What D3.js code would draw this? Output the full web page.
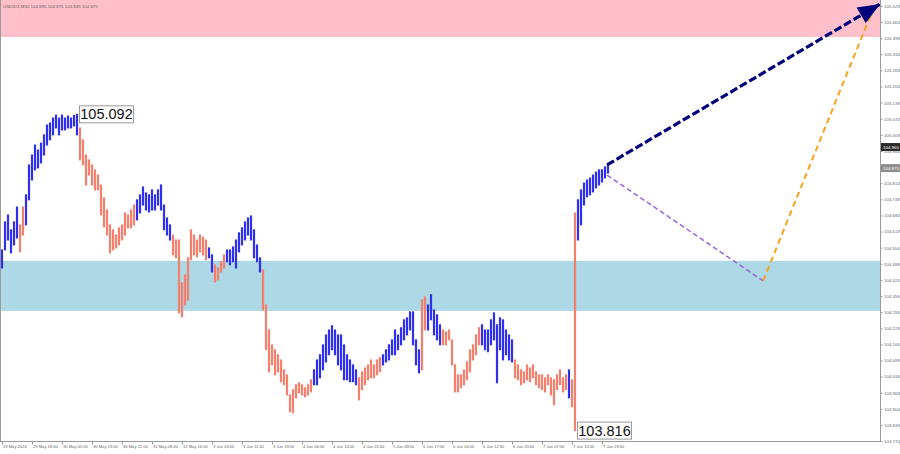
<!DOCTYPE html>
<html><head><meta charset="utf-8">
<script src="https://cdn.jsdelivr.net/npm/d3@7"></script>
<style>body{margin:0;background:#fff}svg{display:block}</style>
</head><body><svg id="c" width="900" height="454"></svg>
<script>
const symbolTitle = "USDIDX,M30  104.895 104.875 104.845 104.875";
const highs = [
104.545,104.658,104.686,104.626,104.658,104.718,104.646,104.718,104.767,104.888,
104.928,104.968,104.948,104.976,105.009,105.049,105.057,105.077,105.089,105.077,
105.089,105.077,105.085,105.077,105.088,105.092,105.037,104.989,104.928,104.908,
104.888,104.868,104.847,104.807,104.755,104.706,104.646,104.626,104.605,104.634,
104.646,104.694,104.686,104.706,104.726,104.747,104.767,104.799,104.775,104.767,
104.787,104.767,104.787,104.807,104.726,104.674,104.646,104.605,104.585,104.585,
104.412,104.444,104.513,104.626,104.605,104.585,104.605,104.597,104.585,104.553,
104.525,104.485,104.472,104.497,104.525,104.545,104.545,104.557,104.585,104.614,
104.634,104.658,104.674,104.682,104.626,104.565,104.513,104.464,104.323,104.222,
104.162,104.142,104.122,104.101,104.061,104.041,103.960,103.981,104.001,104.009,
104.001,103.989,104.001,104.021,104.061,104.101,104.122,104.162,104.202,104.222,
104.239,104.222,104.202,104.202,104.162,104.122,104.101,104.081,104.061,104.029,
104.053,104.069,104.081,104.101,104.081,104.101,104.110,104.122,104.142,104.162,
104.182,104.222,104.202,104.231,104.263,104.271,104.295,104.295,104.182,104.142,
104.343,104.356,104.323,104.364,104.303,104.283,104.243,104.222,104.214,104.222,
104.182,104.081,104.041,104.041,104.061,104.093,104.142,104.162,104.202,104.231,
104.243,104.222,104.222,104.263,104.291,104.243,104.271,104.263,104.222,104.202,
104.182,104.101,104.081,104.061,104.053,104.081,104.069,104.081,104.053,104.041,
104.041,104.029,104.041,104.029,104.021,104.041,104.061,104.029,104.041,104.061,
104.021,104.694,104.747,104.787,104.815,104.827,104.835,104.847,104.859,104.868,
104.868,104.880,104.888];
const lows = [
104.472,104.545,104.585,104.533,104.565,104.593,104.537,104.605,104.646,104.747,
104.827,104.868,104.876,104.896,104.928,104.968,104.989,105.009,105.037,105.009,
105.029,105.029,105.037,105.037,105.045,105.009,104.908,104.888,104.807,104.847,
104.807,104.787,104.787,104.686,104.638,104.605,104.533,104.545,104.553,104.565,
104.585,104.605,104.634,104.634,104.646,104.666,104.694,104.726,104.706,104.698,
104.706,104.706,104.726,104.706,104.626,104.605,104.585,104.525,104.513,104.291,
104.275,104.323,104.343,104.505,104.525,104.517,104.537,104.525,104.505,104.513,
104.456,104.416,104.424,104.456,104.472,104.497,104.485,104.497,104.472,104.537,
104.565,104.585,104.605,104.585,104.513,104.497,104.456,104.303,104.142,104.053,
104.081,104.041,104.053,104.013,104.001,103.960,103.892,103.888,103.948,103.968,
103.960,103.952,103.960,103.972,104.001,104.001,104.029,104.061,104.093,104.122,
104.142,104.122,104.081,104.061,104.021,104.021,104.013,104.013,104.001,103.940,
103.981,104.001,104.021,104.029,104.029,104.041,104.053,104.081,104.093,104.101,
104.122,104.122,104.142,104.162,104.182,104.202,104.222,104.162,104.081,104.049,
104.061,104.222,104.222,104.263,104.202,104.182,104.162,104.162,104.162,104.182,
104.081,103.972,103.972,103.989,104.001,104.021,104.053,104.101,104.122,104.162,
104.162,104.142,104.134,104.162,104.182,104.009,104.142,104.101,104.122,104.101,
104.093,104.029,104.021,104.001,104.009,104.021,104.013,104.029,104.001,103.989,
103.981,103.972,104.001,103.960,103.920,103.981,104.001,103.972,103.981,103.948,
103.912,103.816,104.585,104.646,104.726,104.759,104.767,104.779,104.795,104.807,
104.819,104.835,104.855];
// bar index ranges that belong to falling waves (drawn salmon); the rest are rising waves (blue)
const fallingWaves = [[6,7],[26,44],[57,68],[71,74],[87,103],[119,126],[140,141],[147,159],[171,188],[190,191]];
const timeLabels = ["29 May 2024","29 May 18:00","30 May 05:00","30 May 13:00","30 May 21:00","31 May 08:00","31 May 16:00","3 Jun 03:00","3 Jun 11:00","3 Jun 19:00","4 Jun 06:00","4 Jun 14:00","4 Jun 22:00","5 Jun 09:00","5 Jun 17:00","6 Jun 04:00","6 Jun 12:00","6 Jun 20:00","7 Jun 07:00","7 Jun 15:00","7 Jun 23:00"];
const timeLabelBars = [0,10,20,30,40,50,60,70,80,90,100,110,120,130,140,150,160,170,180,190,200];
const priceTicks = [105.529,105.464,105.399,105.334,105.269,105.204,105.139,105.074,105.009,104.944,104.879,104.814,104.749,104.684,104.619,104.554,104.489,104.424,104.359,104.294,104.229,104.164,104.099,104.034,103.969,103.904,103.839,103.774];
const resistanceZone = [105.404, 105.700];
const supportZone = [104.299, 104.501];
const mainForecast = [[201.7,104.888],[292.7,105.537]];
const altForecastDown = [[201.7,104.847],[253.7,104.420]];
const altForecastUp = [[253.7,104.420],[289.7,105.497]];
const extremes = [{bar:25, price:105.092, text:"105.092"},{bar:191, price:103.816, text:"103.816"}];
const priceMarks = [{price:104.960, text:"104.960", fill:"#2b2b2b"},{price:104.875, text:"104.875", fill:"#8c8c8c"}];

const svg = d3.select("#c");
const L = 1, R = 880, B = 441;
const x = d3.scaleLinear().domain([0,292]).range([2,878]);
const y = d3.scaleLinear().domain([103.774,105.529]).range([441,6]);

svg.append("defs").append("clipPath").attr("id","plot")
  .append("rect").attr("x",L).attr("y",0).attr("width",R-L).attr("height",B);

const plot = svg.append("g").attr("clip-path","url(#plot)");
plot.append("rect").attr("x",L).attr("width",R-L)
  .attr("y",y(resistanceZone[1])).attr("height",y(resistanceZone[0])-y(resistanceZone[1]))
  .attr("fill","#ffc0cb");
plot.append("rect").attr("x",L).attr("width",R-L)
  .attr("y",y(supportZone[1])).attr("height",y(supportZone[0])-y(supportZone[1]))
  .attr("fill","#add8e6");

const isFalling = i => fallingWaves.some(([a,b]) => i>=a && i<=b);
plot.append("g").selectAll("line").data(highs).join("line")
  .attr("x1",(d,i)=>x(i)).attr("x2",(d,i)=>x(i))
  .attr("y1",d=>y(d)-0.5).attr("y2",(d,i)=>y(lows[i])+0.5)
  .attr("stroke",(d,i)=>isFalling(i)?"#f47f6c":"#2f2ff0")
  .attr("stroke-width",2.2);

// forecast lines
const line = d3.line().x(d=>x(d[0])).y(d=>y(d[1]));
plot.append("path").attr("d",line(altForecastDown)).attr("fill","none")
  .attr("stroke","#9a63e0").attr("stroke-width",1.5).attr("stroke-dasharray","5,3");
plot.append("path").attr("d",line(altForecastUp)).attr("fill","none")
  .attr("stroke","#f7a21b").attr("stroke-width",2).attr("stroke-dasharray","6,4");
plot.append("path").attr("d",line(mainForecast)).attr("fill","none")
  .attr("stroke","#00007a").attr("stroke-width",3.2).attr("stroke-dasharray","8,3");
{
  const [p0,p1] = mainForecast;
  const x0=x(p0[0]), y0=y(p0[1]), x1=x(p1[0]), y1=y(p1[1]);
  const a = Math.atan2(y1-y0, x1-x0), len=22, hw=9;
  const bx = x1-len*Math.cos(a), by = y1-len*Math.sin(a);
  const pts = [[x1,y1],[bx+hw*Math.sin(a),by-hw*Math.cos(a)],[bx-hw*Math.sin(a),by+hw*Math.cos(a)]];
  plot.append("polygon").attr("points",pts.map(p=>p.join(",")).join(" ")).attr("fill","#00007a");
}

// extreme labels
extremes.forEach(e=>{
  const g = svg.append("g").attr("transform",`translate(${x(e.bar)+2.5},${y(e.price)})`);
  g.append("rect").attr("x",0).attr("y",-8.5).attr("width",54).attr("height",17)
    .attr("fill","#fff").attr("stroke","#9a9a9a").attr("stroke-width",1);
  g.append("text").attr("x",27).attr("y",5).attr("text-anchor","middle")
    .attr("font-family","Liberation Sans, Arial, sans-serif").attr("font-size",14.5).attr("fill","#111")
    .text(e.text);
});

// frame
svg.append("line").attr("x1",0.5).attr("x2",0.5).attr("y1",0).attr("y2",B).attr("stroke","#9a9a9a");
svg.append("line").attr("x1",0).attr("x2",R).attr("y1",B+0.5).attr("y2",B+0.5).attr("stroke","#9a9a9a");
svg.append("line").attr("x1",R+0.5).attr("x2",R+0.5).attr("y1",0).attr("y2",B+1).attr("stroke","#9a9a9a");

// axes
const ya = svg.append("g").attr("transform",`translate(${R+0.5},0)`)
  .call(d3.axisRight(y).tickValues(priceTicks).tickSize(2).tickPadding(1.5).tickFormat(d3.format(".3f")));
ya.select(".domain").remove();
ya.selectAll("line").attr("stroke","#9a9a9a");
ya.selectAll("text").attr("font-family","Liberation Sans, Arial, sans-serif").attr("font-size",4.4).attr("fill","#666");

const xa = svg.append("g").attr("transform",`translate(0,${B+0.5})`)
  .call(d3.axisBottom(x).tickValues(timeLabelBars).tickSize(3).tickPadding(0.8).tickFormat((d,i)=>timeLabels[i]));
xa.select(".domain").remove();
xa.selectAll("line").attr("stroke","#9a9a9a");
xa.selectAll("text").attr("text-anchor","start").attr("dx",0.5)
  .attr("font-family","Liberation Sans, Arial, sans-serif").attr("font-size",4.1).attr("fill","#666");

// price marks on axis
priceMarks.forEach(m=>{
  const g = svg.append("g").attr("transform",`translate(${R+1},${y(m.price)})`);
  g.append("rect").attr("x",0).attr("y",-4).attr("width",19).attr("height",8).attr("fill",m.fill);
  g.append("text").attr("x",2).attr("y",1.6).attr("font-family","Liberation Sans, Arial, sans-serif")
    .attr("font-size",4.4).attr("fill","#fff").text(m.text);
});

svg.append("text").attr("x",3).attr("y",8).attr("font-family","Liberation Sans, Arial, sans-serif")
  .attr("font-size",4.4).attr("fill","#666").text(symbolTitle);
</script></body></html>
